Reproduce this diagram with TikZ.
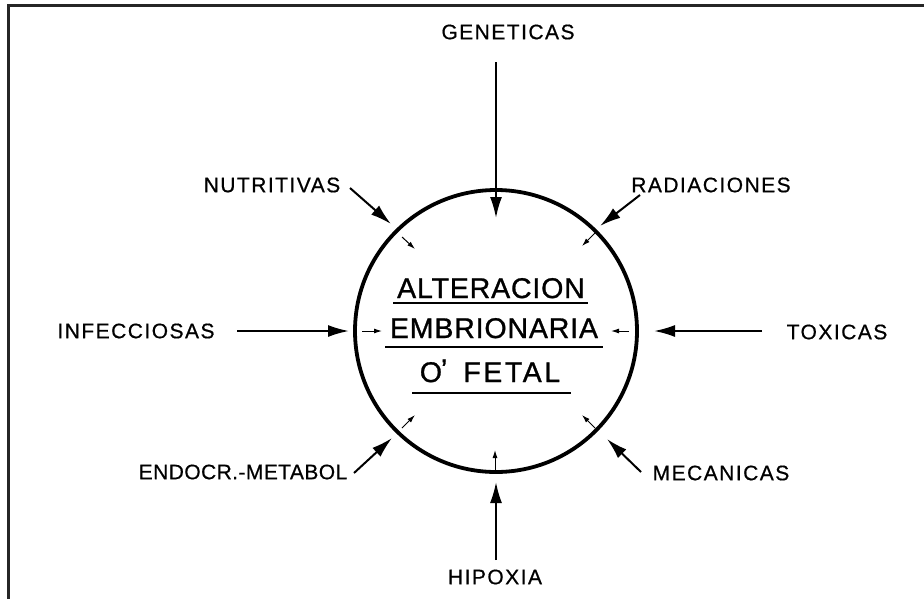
\documentclass[tikz,border=0pt]{standalone}
\usepackage{fontspec}
\setmainfont{Liberation Sans}
\usetikzlibrary{arrows.meta}
\begin{document}
\begin{tikzpicture}[x=1pt,y=-1pt,
  lbl/.style={inner sep=0pt,font=\fontsize{21}{21}\selectfont\addfontfeature{LetterSpace=7,FakeBold=0.6}},
  ctr/.style={inner sep=0pt,anchor=base,font=\fontsize{28.5}{28.5}\selectfont\addfontfeature{LetterSpace=3,FakeBold=1}},
  big/.style={line width=2pt,-{Latex[length=21pt,width=12pt]}},
  small/.style={line width=1pt,-{Latex[length=8pt,width=5pt]}},
  uline/.style={line width=2.2pt}]
\useasboundingbox (0,0) rectangle (924,598);
\draw[line width=3pt,color=black!85] (8.5,600) -- (8.5,5) -- (926,5);
% circle
\node[circle,draw,line width=3.8pt,minimum size=282pt,inner sep=0pt] (c) at (496,331) {};
% center text
\node[ctr] (t1) at (491,298) {ALTERACION};
\node[ctr] (t2) at (494,338) {EMBRIONARIA};
\node[ctr] (t3) at (490,382) {O\kern-1pt\raisebox{3pt}{'}\kern16pt{\addfontfeature{LetterSpace=9}FETAL}};
\coordinate (u1a) at (393,303); \coordinate (u1b) at (588,303);
\coordinate (u2a) at (385,347); \coordinate (u2b) at (603,347);
\coordinate (u3a) at (412,393); \coordinate (u3b) at (571,393);
\draw[uline] (u1a) -- (u1b);
\draw[uline] (u2a) -- (u2b);
\draw[uline] (u3a) -- (u3b);
% labels
\node[lbl] (gen) at (508,32) {GENETICAS};
\node[lbl] (nut) at (272,185) {NUTRITIVAS};
\node[lbl] (rad) at (711,185) {RADIACIONES};
\node[lbl] (inf) at (136,331) {INFECCIOSAS};
\node[lbl] (tox) at (837,332) {TOXICAS};
\node[lbl,font=\fontsize{21}{21}\selectfont\addfontfeature{LetterSpace=2,FakeBold=0.6}] (end) at (243,472) {ENDOCR.-METABOL};
\node[lbl] (mec) at (721,473) {MECANICAS};
\node[lbl] (hip) at (495,577) {HIPOXIA};
% arrow coordinates
\coordinate (g0) at (496,62);  \coordinate (g1) at (496,218);
\coordinate (n0) at (350,188); \coordinate (n1) at (391,224);
\coordinate (n2) at (402,237); \coordinate (n3) at (415,249);
\coordinate (r0) at (640,195); \coordinate (r1) at (600,226);
\coordinate (r2) at (595,233); \coordinate (r3) at (582,246);
\coordinate (i0) at (237,331); \coordinate (i1) at (349,331);
\coordinate (i2) at (362,331); \coordinate (i3) at (382,331);
\coordinate (x0) at (762,331); \coordinate (x1) at (654,331);
\coordinate (x2) at (629,331); \coordinate (x3) at (611,331);
\coordinate (e0) at (354,473); \coordinate (e1) at (392,438);
\coordinate (e2) at (402,428); \coordinate (e3) at (415,415);
\coordinate (m0) at (641,472); \coordinate (m1) at (607,439);
\coordinate (m2) at (595,428); \coordinate (m3) at (582,415);
\coordinate (h0) at (496,560); \coordinate (h1) at (496,482);
\coordinate (h2) at (495,470); \coordinate (h3) at (495,450);
\draw[big] (g0) -- (g1);
\draw[big] (n0) -- (n1); \draw[small] (n2) -- (n3);
\draw[big] (r0) -- (r1); \draw[small] (r2) -- (r3);
\draw[big] (i0) -- (i1); \draw[small] (i2) -- (i3);
\draw[big] (x0) -- (x1); \draw[small] (x2) -- (x3);
\draw[big] (e0) -- (e1); \draw[small] (e2) -- (e3);
\draw[big] (m0) -- (m1); \draw[small] (m2) -- (m3);
\draw[big] (h0) -- (h1); \draw[small] (h2) -- (h3);
\end{tikzpicture}
\end{document}
